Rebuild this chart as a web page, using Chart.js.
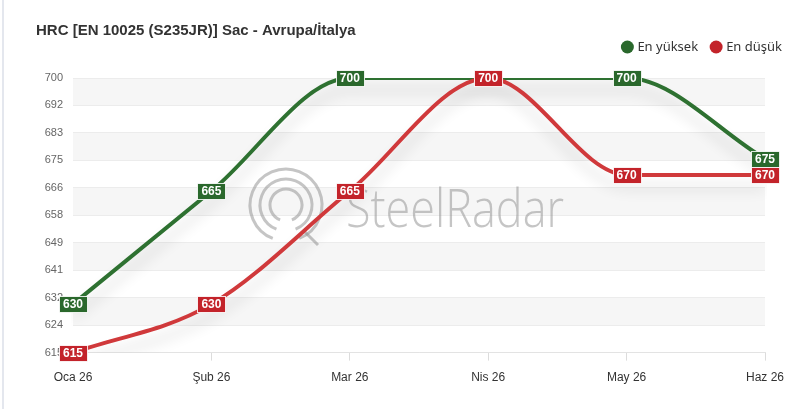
<!DOCTYPE html>
<html lang="tr">
<head>
<meta charset="utf-8">
<title>HRC Sac - Avrupa/İtalya</title>
<script src="https://cdn.jsdelivr.net/npm/chart.js@4.4.1/dist/chart.umd.min.js"></script>
<style>
    html, body { margin: 0; padding: 0; background: #fff; }
    #wrap { position: relative; width: 800px; height: 409px; }
    #frame { position: absolute; left: 2px; top: 0; width: 2px; height: 409px; background: #e4e7ee; }
</style>
</head>
<body>
<div id="wrap">
    <canvas id="priceChart" width="800" height="409"></canvas>
    <div id="frame"></div>
</div>
<script>
'use strict';

// --- VERİLER ---
const months = ['Oca 26', 'Şub 26', 'Mar 26', 'Nis 26', 'May 26', 'Haz 26'];
const highValues = [630, 665, 700, 700, 700, 675];
const lowValues = [615, 630, 665, 700, 670, 670];
const yTickLabels = [615, 624, 632, 641, 649, 658, 666, 675, 683, 692, 700];
const yMin = 615;
const yMax = 700;

const GREEN_LINE = '#2e7131';
const GREEN_BOX = '#2a682c';
const RED_LINE = '#d0393b';
const RED_BOX = '#c3232a';

const FONT = '"Liberation Sans", Arial, sans-serif';

// alternating bands behind the grid
const bandsPlugin = {
    id: 'bands',
    beforeDraw(chart) {
        const { ctx, chartArea, scales } = chart;
        const y = scales.y;
        const ticks = y.ticks;
        ctx.save();
        ctx.fillStyle = '#f6f6f6';
        for (let i = ticks.length - 1; i > 0; i -= 2) {
            const top = y.getPixelForValue(ticks[i].value);
            const bottom = y.getPixelForValue(ticks[i - 1].value);
            ctx.fillRect(chartArea.left, top, chartArea.right - chartArea.left, bottom - top);
        }
        ctx.restore();
    }
};

// başlık + lejant (sabit konum)
const headerPlugin = {
    id: 'header',
    afterDraw(chart) {
        const ctx = chart.ctx;
        ctx.save();
        ctx.fillStyle = '#333';
        ctx.font = 'bold 15px ' + FONT;
        ctx.textBaseline = 'middle';
        ctx.fillText('HRC [EN 10025 (S235JR)] Sac - Avrupa/İtalya', 36, 31);

        ctx.font = '13px "Noto Sans", sans-serif';
        const items = chart.data.datasets.map(d => ({ text: d.label, color: d.boxColor }));
        let x = 782;
        for (let i = items.length - 1; i >= 0; i--) {
            const w = ctx.measureText(items[i].text).width;
            x -= w;
            ctx.fillStyle = '#333';
            ctx.fillText(items[i].text, x, 47);
            ctx.fillStyle = items[i].color;
            ctx.beginPath();
            ctx.arc(x - 10, 47, 6.5, 0, Math.PI * 2);
            ctx.fill();
            x -= 28;
        }
        ctx.restore();
    }
};

// SteelRadar filigranı
const watermarkPlugin = {
    id: 'watermark',
    beforeDatasetsDraw(chart) {
        const ctx = chart.ctx;
        ctx.save();
        ctx.strokeStyle = 'rgba(150,150,150,0.55)';
        ctx.lineWidth = 3;
        const cx = 286, cy = 205;
        [36, 26, 16].forEach(r => {
            ctx.beginPath();
            ctx.arc(cx, cy, r, Math.PI * 0.62, Math.PI * 2.38);
            ctx.stroke();
        });
        ctx.beginPath();
        ctx.moveTo(cx + 18, cy + 26);
        ctx.lineTo(cx + 32, cy + 40);
        ctx.stroke();
        ctx.fillStyle = 'rgba(150,150,150,0.55)';
        ctx.font = '300 54px "Open Sans"';
        ctx.textBaseline = 'alphabetic';
        ctx.fillText('SteelRadar', 346, 227, 218);
        ctx.restore();
    }
};

// gölge
const shadowPlugin = {
    id: 'lineShadow',
    beforeDatasetDraw(chart) {
        const ctx = chart.ctx;
        ctx.save();
        ctx.shadowColor = 'rgba(0,0,0,0.16)';
        ctx.shadowBlur = 14;
        ctx.shadowOffsetY = 12;
    },
    afterDatasetDraw(chart) {
        chart.ctx.restore();
    }
};

// değer etiketleri
const valueLabelsPlugin = {
    id: 'valueLabels',
    afterDatasetsDraw(chart) {
        const ctx = chart.ctx;
        ctx.save();
        ctx.font = 'bold 12px ' + FONT;
        ctx.textAlign = 'center';
        ctx.textBaseline = 'middle';
        // önce yeşil, sonra kırmızı (kırmızı üstte)
        [0, 1].forEach(di => {
            const ds = chart.data.datasets[di];
            const meta = chart.getDatasetMeta(di);
            meta.data.forEach((pt, i) => {
                const txt = String(ds.data[i]);
                const w = ctx.measureText(txt).width + 8;
                const h = 16;
                const x = Math.round(pt.x - w / 2) + 0.5;
                const y = Math.round(pt.y - h / 2) + 0.5;
                ctx.fillStyle = ds.boxColor;
                ctx.fillRect(x, y, w, h);
                ctx.strokeStyle = 'rgba(255,255,255,0.85)';
                ctx.lineWidth = 1;
                ctx.strokeRect(x, y, w, h);
                ctx.fillStyle = '#fff';
                ctx.fillText(txt, pt.x, pt.y + 1);
            });
        });
        ctx.restore();
    }
};

const ctx = document.getElementById('priceChart').getContext('2d');
new Chart(ctx, {
    type: 'line',
    data: {
        labels: months,
        datasets: [{
            label: 'En yüksek',
            data: highValues,
            borderColor: GREEN_LINE,
            boxColor: GREEN_BOX,
            borderWidth: 4,
            pointRadius: 0,
            cubicInterpolationMode: 'monotone',
            order: 1
        }, {
            label: 'En düşük',
            data: lowValues,
            borderColor: RED_LINE,
            boxColor: RED_BOX,
            borderWidth: 4,
            pointRadius: 0,
            cubicInterpolationMode: 'monotone',
            order: 0
        }]
    },
    options: {
        responsive: false,
        animation: false,
        layout: { padding: { left: 0, right: 35, top: 78, bottom: 14 } },
        scales: {
            x: {
                offset: false,
                grid: { drawOnChartArea: false, drawTicks: true, tickLength: 8, color: '#dcdcdc' },
                border: { color: '#e3e3e3' },
                ticks: { color: '#333', font: { family: FONT, size: 12 }, padding: 10, maxRotation: 0 }
            },
            y: {
                min: yMin,
                max: yMax,
                afterBuildTicks(scale) {
                    scale.ticks = yTickLabels.map((_, i) => ({ value: yMin + i * (yMax - yMin) / (yTickLabels.length - 1) }));
                },
                afterFit(scale) { scale.width = 73; },
                grid: { drawTicks: false, color: '#ececec' },
                border: { display: false },
                ticks: {
                    color: '#666',
                    padding: 10,
                    font: { family: FONT, size: 11 },
                    callback: (v, i) => yTickLabels[i]
                }
            }
        },
        plugins: {
            title: { display: false },
            legend: { display: false },
            tooltip: { enabled: false }
        }
    },
    plugins: [bandsPlugin, watermarkPlugin, shadowPlugin, valueLabelsPlugin, headerPlugin]
});
</script>
</body>
</html>
